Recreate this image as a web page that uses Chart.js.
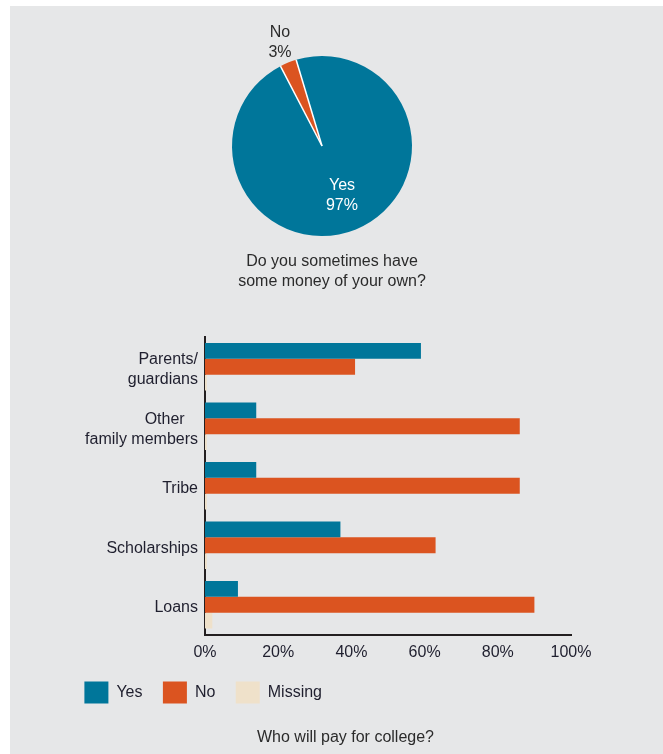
<!DOCTYPE html>
<html>
<head>
<meta charset="utf-8">
<script src="https://cdn.jsdelivr.net/npm/chart.js@4"></script>
<style>
  html, body { margin: 0; padding: 0; background: #fff; }
  body { width: 663px; height: 754px; position: relative; overflow: hidden; font-family: "Liberation Sans", Arial, sans-serif; }
  #panel { position: absolute; left: 10px; top: 6px; right: 0; bottom: 0; background: #e6e7e8; }
  #pieBox { position: absolute; left: 172px; top: -4px; width: 300px; height: 300px; }
  #barBox { position: absolute; left: 0; top: 300px; width: 663px; height: 454px; }
  .caption { position: absolute; left: 0; font-size: 16px; line-height: 20px; color: #2b2b2b; text-align: center; white-space: nowrap; }
</style>
</head>
<body>
<div id="panel"></div>
<div id="pieBox"><canvas id="pie"></canvas></div>
<div class="caption" style="top:251px; width:664px;">Do you sometimes have<br>some money of your own?</div>
<div id="barBox"><canvas id="bar"></canvas></div>
<div class="caption" style="top:727px; width:691px;">Who will pay for college?</div>
<script>
// pie: money of your own
const pieLabels = ['No', 'Yes'];
const pieValues = [3, 97];
const pieColors = ['#db5420', '#00769a'];

// bars: who will pay for college (percent)
const payers = [['Parents/', 'guardians'], ['Other   ', 'family members'], 'Tribe', 'Scholarships', 'Loans'];
const yesValues = [59, 14, 14, 37, 9];
const noValues = [41, 86, 86, 63, 90];
const missingValues = [0.5, 0.5, 0.5, 0.5, 2];
const xTicks = [0, 20, 40, 60, 80, 100];

const textColor = '#1f1f2e';
const axisColor = '#231f20';

Chart.defaults.font.family = '"Liberation Sans", Arial, sans-serif';
Chart.defaults.font.size = 16;
Chart.defaults.color = textColor;

// thin white lines between slices, plus the slice labels
const sliceLabels = {
    id: 'sliceLabels',
    afterDatasetsDraw(chart) {
        const ctx = chart.ctx;
        const meta = chart.getDatasetMeta(0);
        ctx.save();
        ctx.strokeStyle = '#ffffff';
        ctx.lineWidth = 1.5;
        meta.data.forEach(arc => {
            ctx.beginPath();
            ctx.moveTo(arc.x, arc.y);
            ctx.lineTo(arc.x + Math.cos(arc.startAngle) * arc.outerRadius,
                       arc.y + Math.sin(arc.startAngle) * arc.outerRadius);
            ctx.stroke();
        });
        ctx.font = '16px "Liberation Sans", Arial, sans-serif';
        ctx.textAlign = 'center';
        ctx.textBaseline = 'middle';
        meta.data.forEach((arc, i) => {
            const mid = (arc.startAngle + arc.endAngle) / 2;
            const inside = pieValues[i] > 10;
            const dist = arc.outerRadius * (inside ? 0.59 : 1.24);
            const x = arc.x + Math.cos(mid) * dist;
            const y = arc.y + Math.sin(mid) * dist;
            ctx.fillStyle = inside ? '#ffffff' : '#2b2b2b';
            ctx.fillText(pieLabels[i], x, y - 10);
            ctx.fillText(pieValues[i] + '%', x, y + 10);
        });
        ctx.restore();
    }
};

new Chart(document.getElementById('pie'), {
    type: 'pie',
    data: {
        labels: pieLabels,
        datasets: [{
            data: pieValues,
            backgroundColor: pieColors,
            borderWidth: 0,
            hoverOffset: 0
        }]
    },
    options: {
        responsive: true,
        maintainAspectRatio: false,
        animation: false,
        rotation: -27.5,
        radius: 90,
        plugins: { legend: { display: false }, tooltip: { enabled: false } }
    },
    plugins: [sliceLabels]
});

new Chart(document.getElementById('bar'), {
    type: 'bar',
    data: {
        labels: payers,
        datasets: [
            { label: 'Yes', data: yesValues, backgroundColor: '#00769a' },
            { label: 'No', data: noValues, backgroundColor: '#db5420' },
            { label: 'Missing', data: missingValues, backgroundColor: '#efe1ca' }
        ]
    },
    options: {
        indexAxis: 'y',
        responsive: true,
        maintainAspectRatio: false,
        animation: false,
        datasets: { bar: { barPercentage: 1, categoryPercentage: 0.8, borderWidth: 0 } },
        layout: { padding: { left: 64, right: 92, top: 37, bottom: 40.6 } },
        scales: {
            x: {
                min: 0,
                max: 100,
                grid: { display: false, drawTicks: false },
                border: { display: true, color: axisColor, width: 2 },
                ticks: { padding: 8, color: textColor, callback: v => v + '%' },
                afterBuildTicks: s => { s.ticks = xTicks.map(v => ({ value: v })); },
                afterFit: s => { s.height = 26.5; }
            },
            y: {
                grid: { display: false, drawTicks: false },
                border: { display: true, color: axisColor, width: 2 },
                ticks: { padding: 7, labelOffset: 3, color: textColor, font: { size: 16, lineHeight: 1.25 } },
                afterFit: s => { s.width = 141; }
            }
        },
        plugins: {
            legend: {
                position: 'bottom',
                align: 'start',
                labels: { boxWidth: 24, boxHeight: 22, padding: 20.4, color: textColor, font: { size: 16 } }
            },
            tooltip: { enabled: false }
        }
    }
});
</script>
</body>
</html>
